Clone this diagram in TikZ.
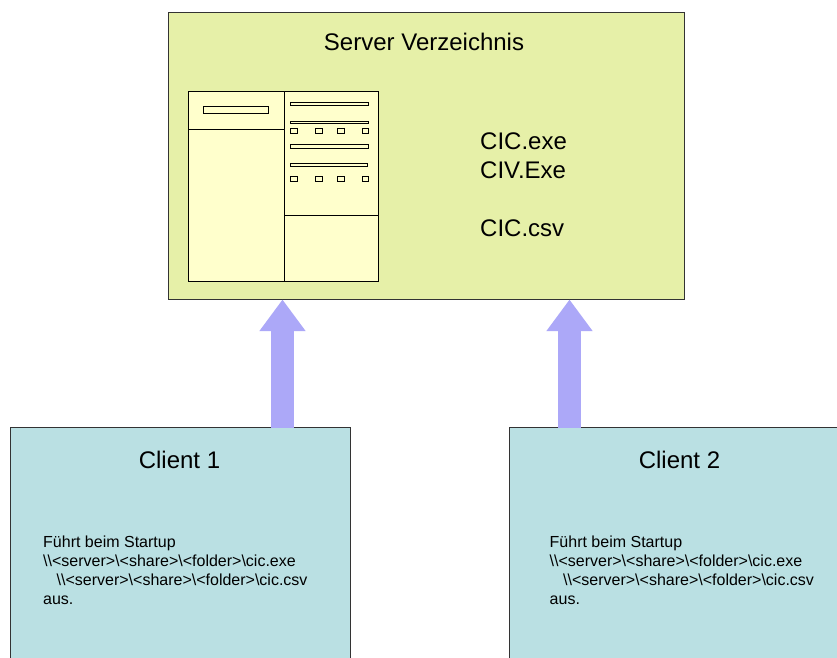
\documentclass[tikz,border=0pt]{standalone}
\usepackage{fontspec}
\setmainfont{Liberation Sans}
\usetikzlibrary{arrows.meta}
\definecolor{serverfill}{HTML}{E6F0A8}
\definecolor{panelfill}{HTML}{FFFFCC}
\definecolor{clientfill}{HTML}{BAE0E3}
\definecolor{arrowfill}{HTML}{ACA8F8}
\definecolor{edge}{HTML}{333333}
\tikzset{
  px/.style={x=1pt,y=-1pt},
  boxshape/.style={draw=edge,line width=0.9pt,anchor=north west,inner sep=0pt,outer sep=0pt},
  serverbox/.style={boxshape,fill=serverfill,minimum width=516pt,minimum height=287pt},
  clientbox/.style={boxshape,fill=clientfill,minimum width=340.5pt,minimum height=260pt},
  bigarrow/.style={draw=arrowfill,line width=23pt,-{Triangle[length=31.5pt,width=44pt,fill=arrowfill]}},
  panel/.style={draw=black,line width=0.9pt,fill=panelfill},
  tiny/.style={draw=black,line width=0.8pt,fill=panelfill},
  heading/.style={font=\fontsize{24}{28}\selectfont,text=black,inner sep=0pt},
  filelabel/.style={font=\fontsize{24}{28}\selectfont,anchor=base west,inner sep=0pt},
  notelabel/.style={font=\fontsize{16}{19}\selectfont,anchor=north west,inner sep=0pt,align=left}
}
\newcommand{\paths}{Führt beim Startup\\
\textbackslash\textbackslash<server>\textbackslash<share>\textbackslash<folder>\textbackslash cic.exe\\
\hspace*{13.5pt}\textbackslash\textbackslash<server>\textbackslash<share>\textbackslash<folder>\textbackslash cic.csv\\
aus.}
\begin{document}
\begin{tikzpicture}[px]
\useasboundingbox (0,0) rectangle (837,657);
\clip (0,0) rectangle (837,657);
\fill[white] (0,0) rectangle (837,657);

\node[serverbox] (server) at (168,12) {};
\node[clientbox] (clienta) at (10,427.5) {};
\node[clientbox] (clientb) at (509,427.5) {};

\coordinate (sa) at (282.5,427.5);
\coordinate (ea) at (282.5,299.5);
\coordinate (sb) at (569.5,427.5);
\coordinate (eb) at (569.5,299.5);
\draw[bigarrow] (sa) -- (ea);
\draw[bigarrow] (sb) -- (eb);

\node[heading,anchor=base] (title) at (424,50) {Server Verzeichnis};
\node[filelabel] (exea) at (480,149) {CIC.exe};
\node[filelabel] (exeb) at (480,178) {CIV.Exe};
\node[filelabel] (csv) at (480,236) {CIC.csv};

\node[heading,anchor=base] (cta) at (179.5,468) {Client 1};
\node[heading,anchor=base] (ctb) at (679.5,468) {Client 2};
\node[notelabel] (na) at (43,535.7) {\paths};
\node[notelabel] (nb) at (549.5,535.7) {\paths};

% window panels
\draw[panel] (188.3,91.7) rectangle (378.3,281.7);
\draw[panel] (284.3,91.7) -- (284.3,281.7);
\draw[panel] (188.3,129.7) -- (284.3,129.7);
\draw[panel] (284.3,215.7) -- (378.3,215.7);
\draw[tiny] (203.3,106.7) rectangle (268.7,113);
\draw[tiny] (290,102.7) rectangle (368.7,105.7);
\draw[tiny] (290,121) rectangle (368.7,123);
\draw[tiny] (290,144.7) rectangle (368.7,148);
\draw[tiny] (290,163) rectangle (367.7,166);
\foreach \yy in {128.7,176.7} {
  \draw[tiny] (290,\yy) rectangle (297.3,\yy+5);
  \draw[tiny] (315.3,\yy) rectangle (322,\yy+5);
  \draw[tiny] (337,\yy) rectangle (344.3,\yy+5);
  \draw[tiny] (362,\yy) rectangle (368.7,\yy+5);
}
\end{tikzpicture}
\end{document}
